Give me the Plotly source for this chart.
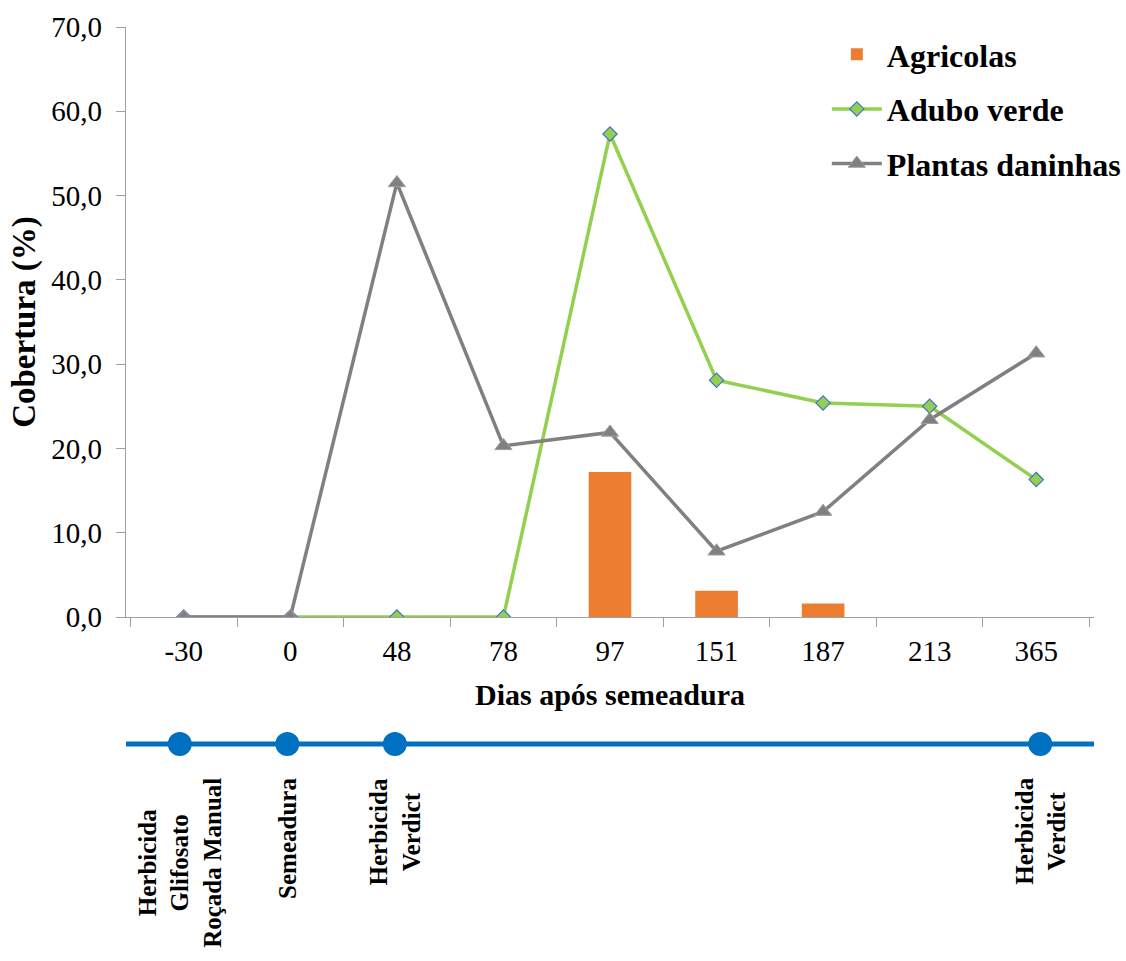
import plotly.graph_objects as go

categories = ["-30", "0", "48", "78", "97", "151", "187", "213", "365"]
agricolas = [None, None, None, None, 17.2, 3.1, 1.6, None, None]
adubo_verde = [0.0, 0.0, 0.0, 0.0, 57.3, 28.1, 25.4, 25.0, 16.3]
plantas_daninhas = [0.0, 0.0, 51.5, 20.3, 21.9, 7.8, 12.5, 23.4, 31.3]

events_x = ["-30", "0", "48", "365"]
events_y = [0, 0, 0, 0]
events_text = ["Herbicida<br>Glifosato<br>Roçada Manual", "Semeadura",
               "Herbicida<br>Verdict", "Herbicida<br>Verdict"]

FONT = "Liberation Serif"

fig = go.Figure()
fig.add_trace(go.Bar(x=categories, y=agricolas, name="Agricolas",
                     marker=dict(color="#ED7D31", line=dict(width=0)),
                     legendgroup="a", xaxis="x", yaxis="y"))
fig.add_trace(go.Scatter(x=categories, y=adubo_verde, name="Adubo verde",
                         mode="lines+markers",
                         line=dict(color="#92D050", width=3.5),
                         marker=dict(symbol="diamond", size=11, color="#92D050",
                                     line=dict(color="#4472C4", width=1.2)),
                         legendgroup="b", xaxis="x", yaxis="y"))
fig.add_trace(go.Scatter(x=categories, y=plantas_daninhas, name="Plantas daninhas",
                         mode="lines+markers",
                         line=dict(color="#808080", width=3.5),
                         marker=dict(symbol="triangle-up", size=15, color="#808080",
                                     line=dict(color="#A0A0A0", width=1)),
                         legendgroup="c", xaxis="x", yaxis="y"))
fig.add_trace(go.Scatter(x=events_x, y=events_y, mode="markers",
                         marker=dict(symbol="circle", size=24, color="#0070C0"),
                         showlegend=False, xaxis="x2", yaxis="y2",
                         hoverinfo="skip"))

fig.add_shape(type="line", xref="paper", yref="y2", x0=0, x1=1, y0=0, y1=0,
              line=dict(color="#0070C0", width=5), layer="below")

for xv, txt in zip(events_x, events_text):
    fig.add_annotation(x=categories.index(xv), xref="x2", y=0.184, yref="paper", text=txt,
                       textangle=-90, showarrow=False, xanchor="center",
                       yanchor="top", align="center",
                       font=dict(family=FONT, size=25, color="black", weight="bold"))

fig.update_layout(
    width=1126, height=961,
    margin=dict(l=126, r=31, t=27, b=0),
    paper_bgcolor="white", plot_bgcolor="white",
    separators=", ",
    bargap=0.6,
    font=dict(family=FONT, color="black"),
    showlegend=True,
    legend=dict(x=0.724, y=1.0, xanchor="left", yanchor="top",
                font=dict(family=FONT, size=32, color="black", weight="bold"),
                tracegroupgap=10, itemwidth=50, bgcolor="rgba(0,0,0,0)"),
    xaxis=dict(type="category", categoryorder="array", categoryarray=categories,
               domain=[0, 1], anchor="y",
               showline=True, linecolor="#A0A0A0", linewidth=1.3,
               ticks="outside", tickson="boundaries", ticklen=9,
               tickcolor="#A0A0A0", showgrid=False,
               ticklabelstandoff=8,
               tickfont=dict(family=FONT, size=29, color="black"),
               title=dict(text="Dias após semeadura", standoff=18,
                          font=dict(family=FONT, size=30, color="black", weight="bold"))),
    yaxis=dict(domain=[0.3573, 1], range=[0, 70], dtick=10, tickformat=".1f",
               showline=True, linecolor="#A0A0A0", linewidth=1.3,
               ticks="outside", ticklen=9, tickcolor="#A0A0A0",
               showgrid=False, zeroline=False, anchor="x",
               ticklabelstandoff=8,
               tickfont=dict(family=FONT, size=29, color="black"),
               title=dict(text="Cobertura (%)", standoff=5,
                          font=dict(family=FONT, size=33, color="black", weight="bold"))),
    xaxis2=dict(type="category", categoryorder="array", categoryarray=categories,
                range=[-0.5, 8.5], domain=[0, 1], anchor="y2", visible=False),
    yaxis2=dict(domain=[0.189, 0.249], range=[-1, 1], visible=False, anchor="x2"),
)

fig.write_html("out.html")
